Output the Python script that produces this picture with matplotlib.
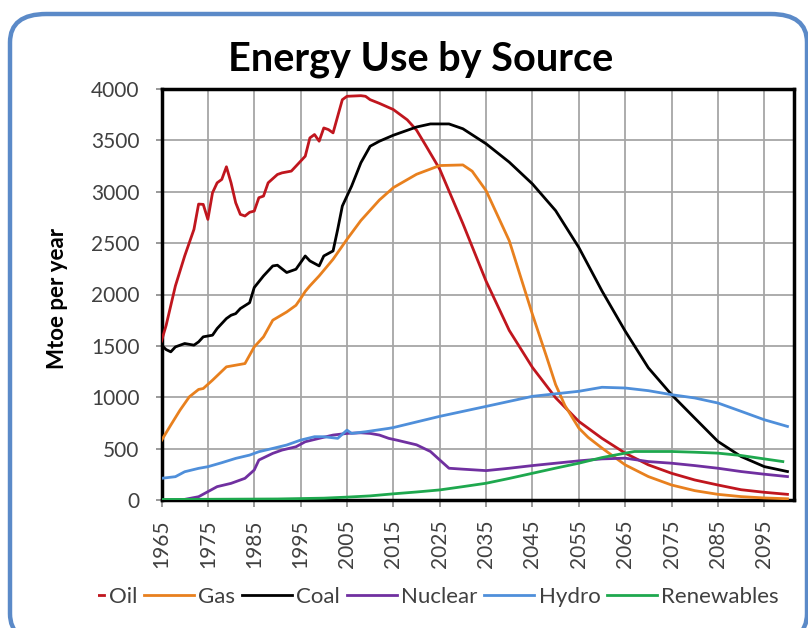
import matplotlib
matplotlib.use('Agg')
from matplotlib import pyplot as plt
from matplotlib.patches import FancyBboxPatch, Rectangle

plt.rcParams['font.family'] = ['Lato', 'DejaVu Sans']

# values (Mtoe per year)
oil_years = [1965, 1966, 1968, 1970, 1972, 1973, 1974, 1975, 1976, 1977, 1978, 1979, 1980, 1981,
             1982, 1983, 1984, 1985, 1986, 1987, 1988, 1990, 1991, 1993, 1994, 1996, 1997, 1998,
             1999, 2000, 2001, 2002, 2003, 2004, 2005, 2008, 2009, 2010, 2012, 2015, 2018, 2020,
             2022, 2025, 2030, 2035, 2040, 2045, 2050, 2055, 2060, 2065, 2070, 2075, 2080, 2085,
             2090, 2095, 2100]
oil = [1547, 1700, 2084, 2375, 2634, 2880, 2877, 2731, 2990, 3087, 3120, 3243, 3087, 2893,
       2780, 2764, 2800, 2812, 2942, 2958, 3087, 3168, 3184, 3201, 3249, 3346, 3524, 3557,
       3492, 3621, 3605, 3573, 3735, 3896, 3929, 3935, 3929, 3896, 3860, 3800, 3700, 3600,
       3450, 3220, 2690, 2130, 1650, 1290, 995, 765, 600, 456, 342, 260, 195, 146,
       100, 75, 55]

gas_years = [1965, 1967, 1969, 1971, 1973, 1974, 1976, 1979, 1981, 1983, 1985, 1987, 1989, 1992,
             1994, 1995, 1996, 1997, 1999, 2002, 2005, 2008, 2012, 2015, 2020, 2025, 2030, 2032,
             2035, 2040, 2045, 2048, 2050, 2052, 2055, 2057, 2060, 2065, 2070, 2075, 2080, 2085,
             2090, 2095, 2100]
gas = [580, 729, 875, 1004, 1076, 1085, 1166, 1296, 1312, 1328, 1490, 1588, 1750, 1830,
       1895, 1960, 2030, 2084, 2181, 2343, 2537, 2720, 2920, 3040, 3170, 3255, 3261, 3200,
       3011, 2523, 1806, 1400, 1123, 920, 700, 610, 505, 342, 228, 146, 91, 55,
       33, 20, 12]

coal_years = [1965, 1966, 1967, 1968, 1970, 1972, 1973, 1974, 1976, 1977, 1979, 1980, 1981, 1982,
              1984, 1985, 1987, 1989, 1990, 1992, 1994, 1996, 1997, 1999, 2000, 2002, 2003, 2004,
              2006, 2008, 2010, 2012, 2015, 2020, 2023, 2027, 2030, 2035, 2040, 2045, 2050, 2055,
              2060, 2065, 2070, 2075, 2080, 2085, 2090, 2095, 2100]
coal = [1507, 1464, 1442, 1490, 1523, 1507, 1539, 1588, 1604, 1669, 1766, 1798, 1814, 1863,
        1920, 2068, 2181, 2278, 2285, 2214, 2246, 2375, 2327, 2278, 2375, 2424, 2634, 2861,
        3055, 3282, 3443, 3492, 3550, 3630, 3660, 3660, 3613, 3467, 3288, 3076, 2816, 2458,
        2034, 1644, 1286, 1025, 797, 570, 423, 325, 277]

nuclear_years = [1965, 1969, 1970, 1973, 1975, 1977, 1980, 1983, 1985, 1986, 1989, 1991, 1994,
                 1996, 1999, 2002, 2005, 2008, 2010, 2012, 2014, 2016, 2020, 2023, 2025, 2027,
                 2030, 2035, 2040, 2045, 2050, 2055, 2060, 2065, 2070, 2075, 2080, 2085, 2090,
                 2095, 2100]
nuclear = [0, 0, 6, 32, 81, 130, 162, 211, 292, 389, 454, 486, 518,
           567, 600, 632, 648, 654, 648, 632, 600, 580, 537, 472, 390, 309,
           300, 286, 309, 335, 358, 381, 400, 407, 374, 358, 335, 309, 277,
           251, 228]

hydro_years = [1965, 1968, 1970, 1973, 1975, 1978, 1981, 1984, 1986, 1989, 1992, 1995, 1998,
               2000, 2003, 2005, 2006, 2009, 2014, 2015, 2025, 2035, 2045, 2055, 2060, 2065,
               2070, 2075, 2080, 2085, 2090, 2095, 2100]
hydro = [211, 227, 275, 308, 324, 363, 405, 437, 470, 502, 535, 583, 616,
         616, 600, 680, 648, 664, 697, 705, 814, 911, 1009, 1058, 1097, 1090,
         1064, 1025, 993, 944, 863, 781, 716]

ren_years = [1965, 1990, 2000, 2005, 2010, 2015, 2020, 2025, 2030, 2035, 2040, 2045, 2050,
             2055, 2060, 2065, 2067, 2075, 2080, 2085, 2090, 2095, 2099]
renewables = [5, 10, 18, 28, 40, 60, 78, 98, 130, 163, 210, 260, 310,
              358, 413, 456, 472, 472, 465, 456, 433, 400, 374]

series = [
    ('Oil', oil_years, oil, '#C0161E'),
    ('Gas', gas_years, gas, '#E8801E'),
    ('Coal', coal_years, coal, '#000000'),
    ('Nuclear', nuclear_years, nuclear, '#7030A0'),
    ('Hydro', hydro_years, hydro, '#4F8FDA'),
    ('Renewables', ren_years, renewables, '#1EA84E'),
]

grey_txt = '#404040'
W, H = 808, 628

fig = plt.figure(figsize=(W / 100, H / 100), dpi=100)

# rounded blue frame around the whole chart (runs off the right and bottom)
frame = FancyBboxPatch((10 / W, -14 / H), 797 / W, 628 / H,
                       boxstyle='round,pad=0,rounding_size=0.045',
                       transform=fig.transFigure, facecolor='none',
                       edgecolor='#5B8AC8', linewidth=3.2, zorder=-5)
fig.patches.append(frame)

ax = fig.add_axes([161.5 / W, 1 - 500 / H, 632 / W, 411 / H])

for name, yrs, vals, col in series:
    ax.plot(yrs, vals, color=col, linewidth=2, label=name, zorder=3)

ax.set_xlim(1965, 2101.3)
ax.set_ylim(0, 4000)
ax.set_xticks(range(1965, 2100, 10))
ax.set_yticks(range(0, 4001, 500))
ax.tick_params(axis='x', labelrotation=90, labelsize=15, length=5, width=1.2,
               color='#888888', pad=9, labelcolor=grey_txt)
ax.tick_params(axis='y', labelsize=15, length=4, width=1.2, color='#888888',
               pad=12, labelcolor=grey_txt)
ax.grid(True, color='#A6A6A6', linewidth=1.3)
ax.set_axisbelow(True)
for sp in ax.spines.values():
    sp.set_linewidth(2.5)
    sp.set_color('black')

fig.text(58 / W, 1 - 298 / H, 'Mtoe per year', rotation=90, ha='center', va='center',
         fontsize=16, fontweight='bold')
fig.text(421 / W, 1 - 59 / H, 'Energy Use by Source', ha='center', va='center',
         fontsize=28.5, fontweight='bold')

leg = fig.legend(loc='center right', bbox_to_anchor=(779 / W, 1 - 597 / H), ncol=6,
                 frameon=False, fontsize=16, handlelength=2.25, handletextpad=0.2,
                 columnspacing=0.3, borderaxespad=0, borderpad=0)
for t in leg.get_texts():
    t.set_color(grey_txt)

# the first legend key is cut at the left in the reference
fig.patches.append(Rectangle((14 / W, 580 / H * 0 + 1 - 615 / H), 84 / W, 35 / H,
                             transform=fig.transFigure, facecolor='white',
                             edgecolor='none', zorder=10))

fig.savefig('out.png', dpi=100)
